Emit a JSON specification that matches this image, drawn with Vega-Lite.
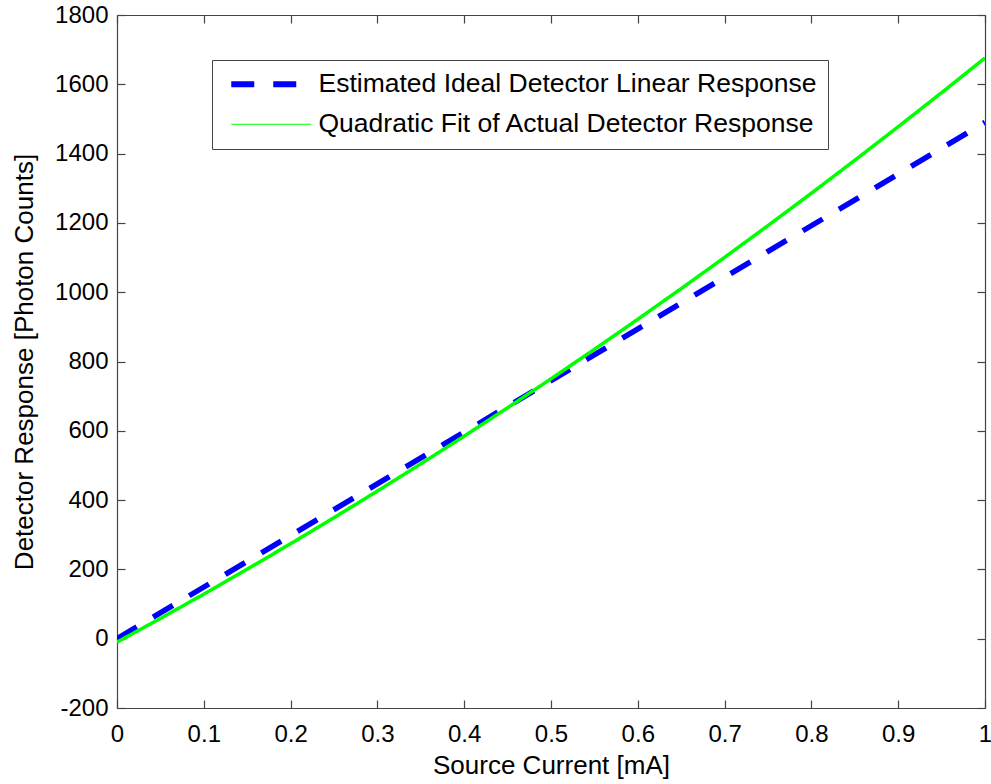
{
  "$schema": "https://vega.github.io/schema/vega-lite/v6.json",
  "autosize": {"type": "none"},
  "width": 868,
  "height": 693,
  "padding": {"left": 117, "top": 15, "right": 6, "bottom": 76},
  "background": "white",
  "config": {
    "font": "Liberation Sans",
    "view": {"stroke": null},
    "axis": {
      "grid": false,
      "domainColor": "#444",
      "domainWidth": 1.2,
      "tickColor": "#444",
      "tickWidth": 1.2,
      "tickSize": -8,
      "labelFont": "Liberation Sans",
      "labelFontSize": 24,
      "labelColor": "#000",
      "titleFont": "Liberation Sans",
      "titleFontSize": 26,
      "titleFontWeight": "normal",
      "titleColor": "#000"
    }
  },
  "data": {
    "values": [
      {"current": 0.0, "counts": 0, "series": "Estimated Ideal Detector Linear Response"},
      {"current": 1.0, "counts": 1490, "series": "Estimated Ideal Detector Linear Response"},
      {"current": 0.0, "counts": -10, "series": "Quadratic Fit of Actual Detector Response"},
      {"current": 0.05, "counts": 58.5, "series": "Quadratic Fit of Actual Detector Response"},
      {"current": 0.1, "counts": 128.7, "series": "Quadratic Fit of Actual Detector Response"},
      {"current": 0.15, "counts": 200.6, "series": "Quadratic Fit of Actual Detector Response"},
      {"current": 0.2, "counts": 274.1, "series": "Quadratic Fit of Actual Detector Response"},
      {"current": 0.25, "counts": 349.3, "series": "Quadratic Fit of Actual Detector Response"},
      {"current": 0.3, "counts": 426.1, "series": "Quadratic Fit of Actual Detector Response"},
      {"current": 0.35, "counts": 504.6, "series": "Quadratic Fit of Actual Detector Response"},
      {"current": 0.4, "counts": 584.7, "series": "Quadratic Fit of Actual Detector Response"},
      {"current": 0.45, "counts": 666.5, "series": "Quadratic Fit of Actual Detector Response"},
      {"current": 0.5, "counts": 750, "series": "Quadratic Fit of Actual Detector Response"},
      {"current": 0.55, "counts": 835.1, "series": "Quadratic Fit of Actual Detector Response"},
      {"current": 0.6, "counts": 921.9, "series": "Quadratic Fit of Actual Detector Response"},
      {"current": 0.65, "counts": 1010.4, "series": "Quadratic Fit of Actual Detector Response"},
      {"current": 0.7, "counts": 1100.5, "series": "Quadratic Fit of Actual Detector Response"},
      {"current": 0.75, "counts": 1192.3, "series": "Quadratic Fit of Actual Detector Response"},
      {"current": 0.8, "counts": 1285.7, "series": "Quadratic Fit of Actual Detector Response"},
      {"current": 0.85, "counts": 1380.8, "series": "Quadratic Fit of Actual Detector Response"},
      {"current": 0.9, "counts": 1477.5, "series": "Quadratic Fit of Actual Detector Response"},
      {"current": 0.95, "counts": 1575.9, "series": "Quadratic Fit of Actual Detector Response"},
      {"current": 1.0, "counts": 1676, "series": "Quadratic Fit of Actual Detector Response"}
    ]
  },
  "encoding": {
    "color": {
      "field": "series",
      "type": "nominal",
      "scale": {
        "domain": ["Estimated Ideal Detector Linear Response", "Quadratic Fit of Actual Detector Response"],
        "range": ["#0000ff", "#00ff00"]
      },
      "legend": {
        "title": null,
        "orient": "none",
        "legendX": 95,
        "legendY": 45,
        "direction": "vertical",
        "strokeColor": "#444",
        "fillColor": "white",
        "padding": 11,
        "rowPadding": 13,
        "labelFontSize": 26.5,
        "labelFont": "Liberation Sans",
        "labelColor": "#000",
        "labelLimit": 700,
        "labelOffset": 69,
        "symbolType": "M-0.5,0H7.5",
        "symbolSize": 400,
        "cornerRadius": 0,
        "encode": {
          "symbols": {
            "update": {
              "strokeWidth": {"signal": "datum.value === 'Quadratic Fit of Actual Detector Response' ? 1.2 : 6"}
            }
          }
        }
      }
    },
    "strokeDash": {
      "field": "series",
      "type": "nominal",
      "scale": {
        "domain": ["Estimated Ideal Detector Linear Response", "Quadratic Fit of Actual Detector Response"],
        "range": [[23, 19], [1, 0]]
      },
      "legend": null
    }
  },
  "layer": [
    {
      "transform": [{"filter": "datum.series === 'Estimated Ideal Detector Linear Response'"}],
      "mark": {"type": "line", "clip": true, "strokeCap": "butt", "strokeWidth": 5.5},
      "encoding": {
        "x": {
          "field": "current", "type": "quantitative",
          "scale": {"domain": [0, 1], "nice": false},
          "axis": {"orient": "bottom", "values": [0, 0.1, 0.2, 0.3, 0.4, 0.5, 0.6, 0.7, 0.8, 0.9, 1], "format": "~g", "labelPadding": 22, "title": "Source Current [mA]", "titlePadding": 6, "labelFlush": false}
        },
        "y": {
          "field": "counts", "type": "quantitative",
          "scale": {"domain": [-200, 1800], "nice": false},
          "axis": {"orient": "left", "values": [-200, 0, 200, 400, 600, 800, 1000, 1200, 1400, 1600, 1800], "labelExpr": "datum.value < 0 ? '-' + abs(datum.value) : '' + datum.value", "labelPadding": 17, "title": "Detector Response [Photon Counts]", "titlePadding": 17, "labelFlush": false}
        }
      }
    },
    {
      "transform": [{"filter": "datum.series === 'Quadratic Fit of Actual Detector Response'"}],
      "mark": {"type": "line", "clip": true, "strokeWidth": 3.5},
      "encoding": {
        "x": {
          "field": "current", "type": "quantitative",
          "axis": {"orient": "top", "values": [0, 0.1, 0.2, 0.3, 0.4, 0.5, 0.6, 0.7, 0.8, 0.9, 1], "labels": false, "title": null}
        },
        "y": {
          "field": "counts", "type": "quantitative",
          "axis": {"orient": "right", "values": [-200, 0, 200, 400, 600, 800, 1000, 1200, 1400, 1600, 1800], "labels": false, "title": null}
        }
      }
    }
  ],
  "resolve": {"axis": {"x": "independent", "y": "independent"}}
}
